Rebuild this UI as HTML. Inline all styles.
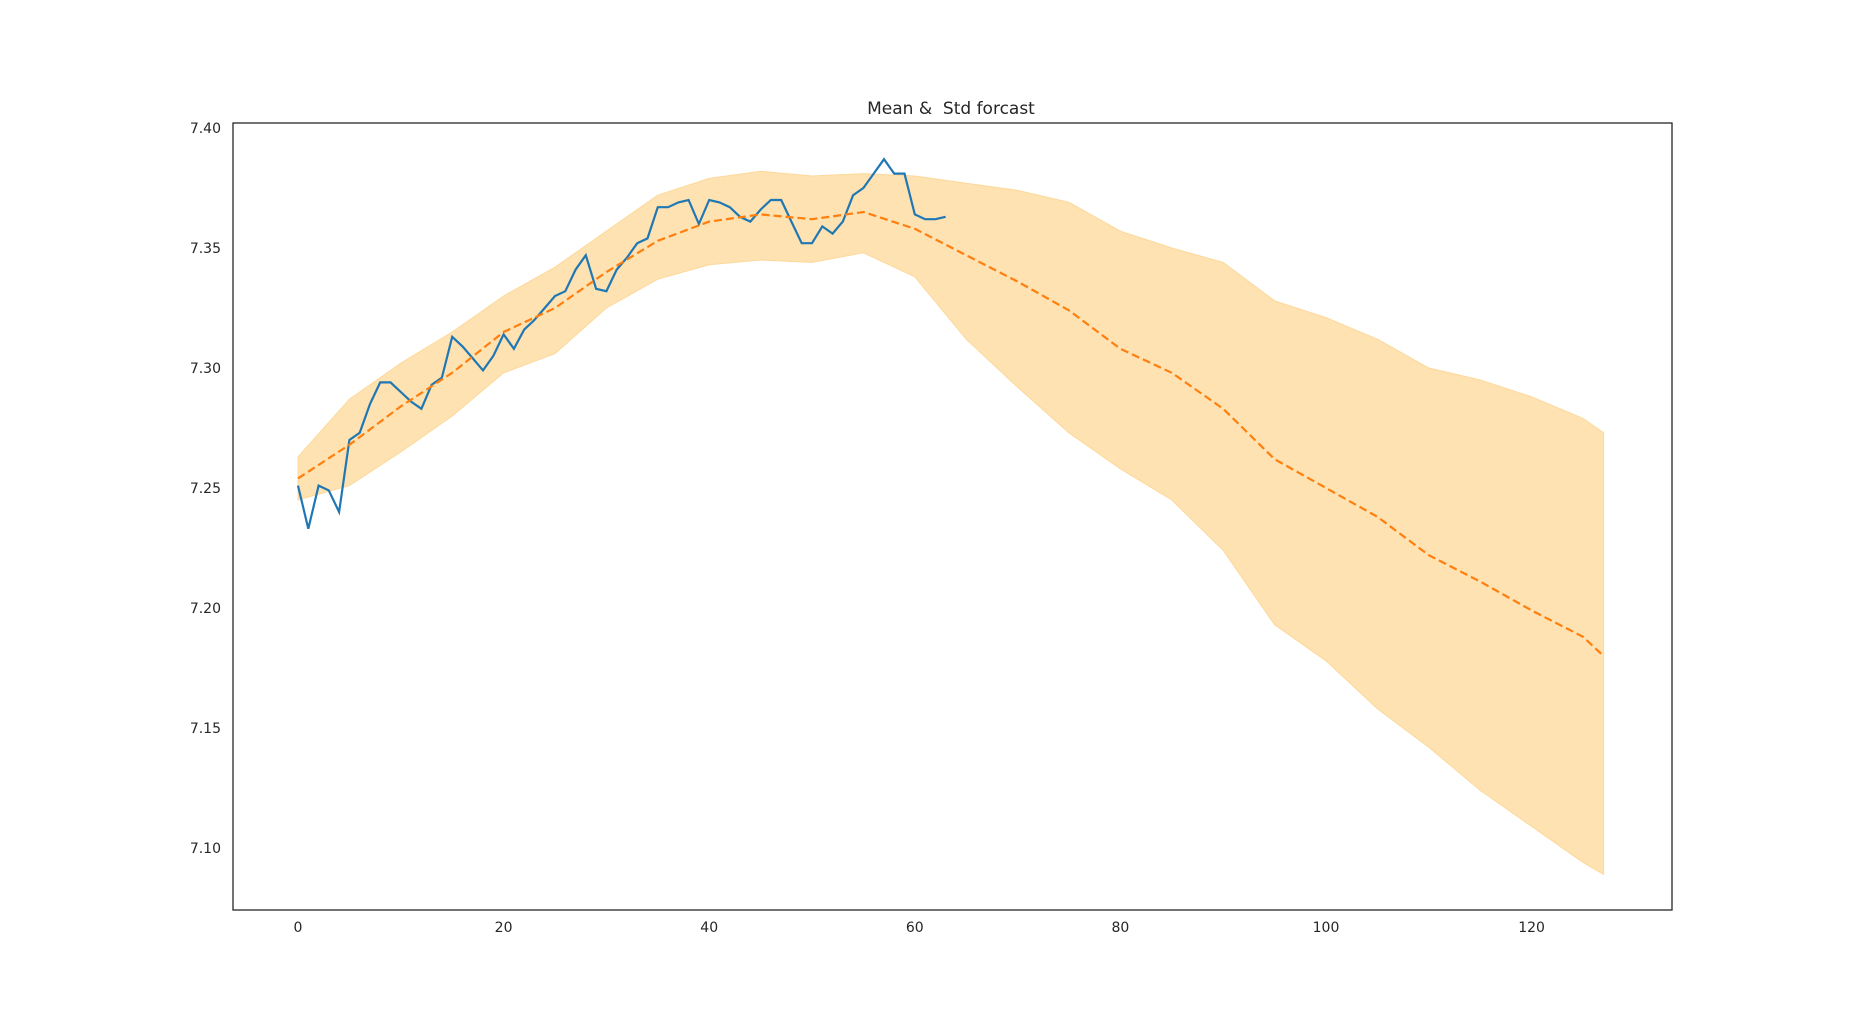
<!DOCTYPE html>
<html><head><meta charset="utf-8"><style>
body{margin:0;background:#fff;}
svg{display:block;font-family:"DejaVu Sans","Liberation Sans",sans-serif;}
</style></head><body>
<svg id="chart" width="1855" height="1022" viewBox="0 0 1855 1022" xmlns="http://www.w3.org/2000/svg">
<rect width="1855" height="1022" fill="#fff"/>
<text x="951" y="114" text-anchor="middle" font-size="17" fill="#262626" xml:space="preserve">Mean &amp;  Std forcast</text>
<g id="plot"></g>
<rect x="233" y="123" width="1439" height="787" fill="none" stroke="#262626" stroke-width="1.3"/>
</svg>
<script>
const bandX = [0,5,10,15,20,25,30,35,40,45,50,55,60,65,70,75,80,85,90,95,100,105,110,115,120,125,127];
const meanVals = [7.254,7.268,7.284,7.298,7.315,7.325,7.340,7.353,7.361,7.364,7.362,7.365,7.358,7.347,7.336,7.324,7.308,7.298,7.283,7.262,7.250,7.238,7.222,7.211,7.199,7.188,7.180];
const upperVals = [7.263,7.287,7.302,7.315,7.330,7.342,7.357,7.372,7.379,7.382,7.380,7.381,7.380,7.377,7.374,7.369,7.357,7.350,7.344,7.328,7.321,7.312,7.300,7.295,7.288,7.279,7.273];
const lowerVals = [7.245,7.251,7.265,7.280,7.298,7.306,7.325,7.337,7.343,7.345,7.344,7.348,7.338,7.312,7.292,7.273,7.258,7.245,7.224,7.193,7.178,7.158,7.142,7.124,7.109,7.094,7.089];
const actualVals = [7.251,7.233,7.251,7.249,7.240,7.270,7.273,7.285,7.294,7.294,7.290,7.286,7.283,7.293,7.296,7.313,7.309,7.304,7.299,7.305,7.314,7.308,7.316,7.320,7.325,7.330,7.332,7.341,7.347,7.333,7.332,7.341,7.346,7.352,7.354,7.367,7.367,7.369,7.370,7.360,7.370,7.369,7.367,7.363,7.361,7.366,7.370,7.370,7.361,7.352,7.352,7.359,7.356,7.361,7.372,7.375,7.381,7.387,7.381,7.381,7.364,7.362,7.362,7.363];
const xTicks = [0,20,40,60,80,100,120];
const yTicks = [7.10,7.15,7.20,7.25,7.30,7.35,7.40];

function xs(v){return 298 + v*10.28;}
function ys(v){return 128 + (7.40 - v)*2400;}
const NS = "http://www.w3.org/2000/svg";
const g = document.getElementById('plot');
function mk(tag, attrs){const e=document.createElementNS(NS,tag);for(const k in attrs)e.setAttribute(k,attrs[k]);g.appendChild(e);return e;}

let d = bandX.map((x,i)=>(i?'L':'M')+xs(x).toFixed(1)+','+ys(upperVals[i]).toFixed(1)).join(' ');
for(let i=bandX.length-1;i>=0;i--) d += ' L'+xs(bandX[i]).toFixed(1)+','+ys(lowerVals[i]).toFixed(1);
const band = mk('path',{d:d+' Z',fill:'#fee2b1',stroke:'#fdd89a','stroke-width':1});



const act = mk('path',{d:actualVals.map((v,i)=>(i?'L':'M')+xs(i).toFixed(1)+','+ys(v).toFixed(1)).join(' '),fill:'none',stroke:'#1f77b4','stroke-width':2.2});



const mean = mk('path',{d:bandX.map((x,i)=>(i?'L':'M')+xs(x).toFixed(1)+','+ys(meanVals[i]).toFixed(1)).join(' '),fill:'none',stroke:'#ff7f0e','stroke-width':2.2,'stroke-dasharray':'8,4'});



xTicks.forEach(t=>{
  const e = mk('text',{x:xs(t),y:932,'text-anchor':'middle','font-size':14,fill:'#262626'});
  e.textContent = t;
  
  
});
yTicks.forEach(t=>{
  const e = mk('text',{x:221,y:ys(t)+5,'text-anchor':'end','font-size':14,fill:'#262626'});
  e.textContent = t.toFixed(2);
  
  
});
</script>
</body></html>
